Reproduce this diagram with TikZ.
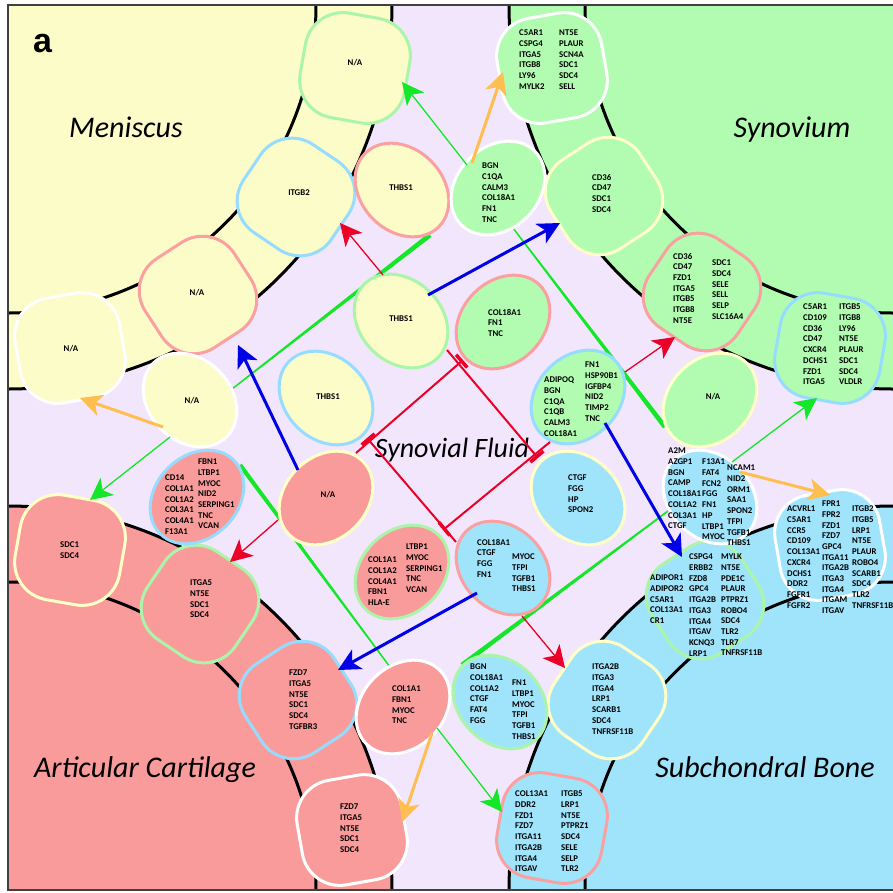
\documentclass[tikz,border=0pt]{standalone}
\usepackage{fontspec}
\setmainfont{Carlito}
\newfontfamily\labfont{Liberation Sans}
\usetikzlibrary{shapes.geometric,arrows.meta,calc}
\definecolor{lav}{RGB}{242,230,252}
\definecolor{fyel}{RGB}{252,252,200}
\definecolor{fgrn}{RGB}{178,252,178}
\definecolor{fpnk}{RGB}{250,155,155}
\definecolor{fblu}{RGB}{160,228,252}
\definecolor{kgrn}{RGB}{170,245,170}
\definecolor{kblu}{RGB}{150,220,255}
\definecolor{kpnk}{RGB}{250,160,160}
\definecolor{kyel}{RGB}{255,255,200}
\definecolor{agrn}{RGB}{20,230,40}
\definecolor{ablu}{RGB}{0,0,230}
\definecolor{ared}{RGB}{235,0,40}
\definecolor{aorg}{RGB}{255,190,80}
\pgfdeclarelayer{bg}
\pgfdeclarelayer{lines}
\pgfsetlayers{bg,lines,main}
\newcommand\mytaper[4]{%
  \fill[agrn] ($(#1)!#3!90:(#2)$) -- ($(#1)!#3!-90:(#2)$) -- ($(#2)!#4!90:(#1)$) -- ($(#2)!#4!-90:(#1)$) -- cycle;}
\tikzset{
 sq/.style={draw, line width=3pt, rectangle, rounded corners=38pt, minimum width=106pt, minimum height=106pt, inner sep=0pt},
 ell/.style={draw, line width=3pt, ellipse, minimum width=104pt, minimum height=82pt, inner sep=0pt},
 txt/.style={font=\fontsize{8.8}{10.67}\selectfont\bfseries, align=left, inner sep=0pt, anchor=north west},
 ctxt/.style={font=\fontsize{8.8}{10.67}\selectfont\bfseries, inner sep=0pt},
 region/.style={font=\fontsize{30}{36}\selectfont\itshape, inner sep=0pt, anchor=base},
 arcline/.style={line width=3pt, black},
 head/.style={-{Stealth[length=22pt,width=22pt,inset=6pt]}},
 garr/.style={head, draw=agrn, line width=1.3pt},
 barr/.style={head, draw=ablu, line width=3pt},
 rarr/.style={head, draw=ared, line width=1.3pt},
 oarr/.style={head, draw=aorg, line width=3pt},
 inh/.style={-{Bar[width=17pt,line width=3.5pt]}, draw=ared, line width=2pt},
}
\begin{document}
\begin{tikzpicture}[x=1pt,y=-1pt]
\useasboundingbox (0,0) rectangle (893,892);
\begin{pgfonlayer}{bg}
\fill[lav] (8,5) rectangle (893,890);
\fill[fyel] (8,5) -- ++(384pt,0pt) arc[start angle=0,end angle=-90,radius=384pt] -- cycle;
\fill[fgrn] (893,5) -- ++(-384pt,0pt) arc[start angle=180,end angle=270,radius=384pt] -- cycle;
\fill[fpnk] (8,890) -- ++(384pt,0pt) arc[start angle=0,end angle=90,radius=384pt] -- cycle;
\fill[fblu] (893,890) -- ++(-384pt,0pt) arc[start angle=180,end angle=90,radius=384pt] -- cycle;
\draw[arcline] (392,5) arc[start angle=0,end angle=-90,radius=384pt];
\draw[arcline] (316,5) arc[start angle=0,end angle=-90,radius=308pt];
\draw[arcline] (509,5) arc[start angle=180,end angle=270,radius=384pt];
\draw[arcline] (585,5) arc[start angle=180,end angle=270,radius=308pt];
\draw[arcline] (392,890) arc[start angle=0,end angle=90,radius=384pt];
\draw[arcline] (316,890) arc[start angle=0,end angle=90,radius=308pt];
\draw[arcline] (509,890) arc[start angle=180,end angle=90,radius=384pt];
\draw[arcline] (585,890) arc[start angle=180,end angle=90,radius=308pt];
\draw[line width=1.2pt, black!75] (893,5) -- (8,5) -- (8,890) -- (893,890);
\end{pgfonlayer}

% region labels
\node[font=\labfont\bfseries\fontsize{34}{40}\selectfont, anchor=base west, inner sep=0pt] (lbla) at (33,52) {a};
\node[region] (lmen) at (126,137) {Meniscus};
\node[region] (lsyn) at (792,137) {Synovium};
\node[region] (lart) at (145,777) {Articular Cartilage};
\node[region] (lsub) at (765,777) {Subchondral Bone};
\node[region, font=\fontsize{28}{34}\selectfont\itshape] (lflu) at (452,457) {Synovial Fluid};

% ---- Meniscus (top-left) shapes
\node[sq, fill=fyel, draw=kgrn, rotate=-10] (m1) at (355,68) {};
\node[sq, fill=fyel, draw=kblu, rotate=-34] (m2) at (296,197) {};
\node[sq, fill=fyel, draw=kpnk, rotate=-57] (m3) at (198,295) {};
\node[sq, fill=fyel, draw=white, rotate=-80] (m4) at (70,348) {};
\node[ell, fill=fyel, draw=kpnk, rotate=-45] (m5) at (402,190) {};
\node[ell, fill=fyel, draw=kgrn, rotate=-45] (m6) at (401,321) {};
\node[ell, fill=fyel, draw=kblu, rotate=-45] (m7) at (326,398) {};
\node[ell, fill=fyel, draw=white, rotate=-45] (m8) at (190,400) {};
% ---- Synovium (top-right) shapes
\node[sq, fill=fgrn, draw=white, rotate=10] (s1) at (552,68) {};
\node[sq, fill=fgrn, draw=kyel, rotate=33] (s2) at (604,196) {};
\node[sq, fill=fgrn, draw=kpnk, rotate=56] (s3) at (702,292) {};
\node[sq, fill=fgrn, draw=kblu, rotate=80] (s4) at (830,348) {};
\node[ell, fill=fgrn, draw=white, rotate=45] (s5) at (498,188) {};
\node[ell, fill=fgrn, draw=kpnk, rotate=45] (s6) at (503,322) {};
\node[ell, fill=fgrn, draw=kblu, rotate=45] (s7) at (578,397) {};
\node[ell, fill=fgrn, draw=kyel, rotate=45] (s8) at (710,400) {};
% ---- Cartilage (bottom-left) shapes
\node[sq, fill=fpnk, draw=kyel, rotate=80] (c1) at (70,550) {};
\node[sq, fill=fpnk, draw=kgrn, rotate=56] (c2) at (200,604) {};
\node[sq, fill=fpnk, draw=kblu, rotate=33] (c3) at (298,700) {};
\node[sq, fill=fpnk, draw=white, rotate=10] (c4) at (352,830) {};
\node[ell, fill=fpnk, draw=kblu, rotate=45] (c5) at (197,497) {};
\node[ell, fill=fpnk, draw=kyel, rotate=45] (c6) at (326,498) {};
\node[ell, fill=fpnk, draw=kgrn, rotate=45] (c7) at (402,572) {};
\node[ell, fill=fpnk, draw=white, rotate=45] (c8) at (403,707) {};
% ---- Bone (bottom-right) shapes
\node[sq, fill=fblu, draw=kpnk, rotate=-10] (b1) at (552,828) {};
\node[sq, fill=fblu, draw=kyel, rotate=-34] (b2) at (607,700) {};
\node[sq, fill=fblu, draw=kgrn, rotate=-57] (b3) at (705,600) {};
\node[sq, fill=fblu, draw=white, rotate=-80] (b4) at (830,545) {};
\node[ell, fill=fblu, draw=kyel, rotate=-45] (b5) at (578,498) {};
\node[ell, fill=fblu, draw=kpnk, rotate=-45] (b6) at (503,568) {};
\node[ell, fill=fblu, draw=kgrn, rotate=-45] (b7) at (500,702) {};
\node[ell, fill=fblu, draw=white, rotate=-45] (b8) at (710,497) {};

% ---- texts
\node[ctxt] (tm1) at (355,63) {N/A};
\node[ctxt] (tm2) at (299,193) {ITGB2};
\node[ctxt] (tm3) at (197,293) {N/A};
\node[ctxt] (tm4) at (71,349) {N/A};
\node[ctxt] (tm5) at (401,188) {THBS1};
\node[ctxt] (tm6) at (401,319) {THBS1};
\node[ctxt] (tm7) at (328,397) {THBS1};
\node[ctxt] (tm8) at (192,401) {N/A};

\node[txt] (ts1a) at (519,30) {C5AR1\\CSPG4\\ITGA5\\ITGB8\\LY96\\MYLK2};
\node[txt] (ts1b) at (559,30) {NT5E\\PLAUR\\SCN4A\\SDC1\\SDC4\\SELL};
\node[txt] (ts2) at (592,174) {CD36\\CD47\\SDC1\\SDC4};
\node[txt] (ts3a) at (673,253) {CD36\\CD47\\FZD1\\ITGA5\\ITGB5\\ITGB8\\NT5E};
\node[txt] (ts3b) at (712,260) {SDC1\\SDC4\\SELE\\SELL\\SELP\\SLC16A4};
\node[txt] (ts4a) at (803,304) {C5AR1\\CD109\\CD36\\CD47\\CXCR4\\DCHS1\\FZD1\\ITGA5};
\node[txt] (ts4b) at (839,304) {ITGB5\\ITGB8\\LY96\\NT5E\\PLAUR\\SDC1\\SDC4\\VLDLR};
\node[txt] (ts5) at (482,163) {BGN\\C1QA\\CALM3\\COL18A1\\FN1\\TNC};
\node[txt] (ts6) at (488,309) {COL18A1\\FN1\\TNC};
\node[txt] (ts7a) at (544,377) {ADIPOQ\\BGN\\C1QA\\C1QB\\CALM3\\COL18A1};
\node[txt] (ts7b) at (585,362) {FN1\\HSP90B1\\IGFBP4\\NID2\\TIMP2\\TNC};
\node[ctxt] (ts8) at (713,397) {N/A};

\node[txt] (tc1) at (60,542) {SDC1\\SDC4};
\node[txt] (tc2) at (190,580) {ITGA5\\NT5E\\SDC1\\SDC4};
\node[txt] (tc3) at (289,670) {FZD7\\ITGA5\\NT5E\\SDC1\\SDC4\\TGFBR3};
\node[txt] (tc4) at (340,804) {FZD7\\ITGA5\\NT5E\\SDC1\\SDC4};
\node[txt] (tc5a) at (165,475) {CD14\\COL1A1\\COL1A2\\COL3A1\\COL4A1\\F13A1};
\node[txt] (tc5b) at (198,459) {FBN1\\LTBP1\\MYOC\\NID2\\SERPING1\\TNC\\VCAN};
\node[ctxt] (tc6) at (328,495) {N/A};
\node[txt] (tc7a) at (368,557) {COL1A1\\COL1A2\\COL4A1\\FBN1\\HLA-E};
\node[txt] (tc7b) at (406,544) {LTBP1\\MYOC\\SERPING1\\TNC\\VCAN};
\node[txt] (tc8) at (392,686) {COL1A1\\FBN1\\MYOC\\TNC};

\node[txt] (tb1a) at (515,791) {COL13A1\\DDR2\\FZD1\\FZD7\\ITGA11\\ITGA2B\\ITGA4\\ITGAV};
\node[txt] (tb1b) at (561,791) {ITGB5\\LRP1\\NT5E\\PTPRZ1\\SDC4\\SELE\\SELP\\TLR2};
\node[txt] (tb2) at (592,664) {ITGA2B\\ITGA3\\ITGA4\\LRP1\\SCARB1\\SDC4\\TNFRSF11B};
\node[txt] (tb3a) at (650,575) {ADIPOR1\\ADIPOR2\\C5AR1\\COL13A1\\CR1};
\node[txt] (tb3b) at (689,554) {CSPG4\\ERBB2\\FZD8\\GPC4\\ITGA2B\\ITGA3\\ITGA4\\ITGAV\\KCNQ3\\LRP1};
\node[txt] (tb3c) at (721,554) {MYLK\\NT5E\\PDE1C\\PLAUR\\PTPRZ1\\ROBO4\\SDC4\\TLR2\\TLR7\\TNFRSF11B};
\node[txt] (tb4a) at (787,506) {ACVRL1\\C5AR1\\CCR5\\CD109\\COL13A1\\CXCR4\\DCHS1\\DDR2\\FGFR1\\FGFR2};
\node[txt] (tb4b) at (822,501) {FPR1\\FPR2\\FZD1\\FZD7\\GPC4\\ITGA11\\ITGA2B\\ITGA3\\ITGA4\\ITGAM\\ITGAV};
\node[txt] (tb4c) at (852,506) {ITGB2\\ITGB5\\LRP1\\NT5E\\PLAUR\\ROBO4\\SCARB1\\SDC4\\TLR2\\TNFRSF11B};
\node[txt] (tb5) at (568,475) {CTGF\\FGG\\HP\\SPON2};
\node[txt] (tb6a) at (477,539) {COL18A1\\CTGF\\FGG\\FN1};
\node[txt] (tb6b) at (512,554) {MYOC\\TFPI\\TGFB1\\THBS1};
\node[txt] (tb7a) at (470,664) {BGN\\COL18A1\\COL1A2\\CTGF\\FAT4\\FGG};
\node[txt] (tb7b) at (512,680) {FN1\\LTBP1\\MYOC\\TFPI\\TGFB1\\THBS1};
\node[txt] (tb8a) at (668,448) {A2M\\AZGP1\\BGN\\CAMP\\COL18A1\\COL1A2\\COL3A1\\CTGF};
\node[txt] (tb8b) at (702,459) {F13A1\\FAT4\\FCN2\\FGG\\FN1\\HP\\LTBP1\\MYOC};
\node[txt] (tb8c) at (727,465) {NCAM1\\NID2\\ORM1\\SAA1\\SPON2\\TFPI\\TGFB1\\THBS1};

% ---- tapered green links (behind nodes)
\coordinate (l1a) at ($(m8)+(42,-11)$);
\coordinate (l1b) at ($(m5)+(28,45)$);
\coordinate (l2a) at ($(s5)+(15,40)$);
\coordinate (l2b) at ($(s8)+(-45,27)$);
\coordinate (l3a) at ($(c5)+(43,-32)$);
\coordinate (l3b) at ($(c8)+(-13,-40)$);
\coordinate (l4a) at ($(b8)+(-38,11)$);
\coordinate (l4b) at ($(b7)+(-38,-37)$);
\begin{pgfonlayer}{lines}
\mytaper{l1a}{l1b}{0.7pt}{2.4pt}
\mytaper{l2a}{l2b}{0.7pt}{2.4pt}
\mytaper{l3a}{l3b}{2.2pt}{0.7pt}
\mytaper{l4a}{l4b}{0.8pt}{2.4pt}
\end{pgfonlayer}

% ---- arrows
\draw[garr] ($(s5)+(-31,-23)$) -- ($(m1)+(47,14)$);
\draw[garr] ($(m8)+(-20,37)$) -- ($(c1)+(20,-50)$);
\draw[garr] ($(c8)+(34,21)$) -- ($(b1)+(-50,-16)$);
\draw[garr] ($(b8)+(22,-35)$) -- ($(s4)+(-13,50)$);
\draw[barr] ($(c6)+(-28,-28)$) -- ($(m3)+(40,50)$);
\draw[barr] ($(m6)+(27,-26)$) -- ($(s2)+(-44,27)$);
\draw[barr] ($(s7)+(27,26)$) -- ($(b3)+(-23,-43)$);
\draw[barr] ($(b6)+(-26,25)$) -- ($(c3)+(40,-30)$);
\draw[rarr] ($(m6)+(-18,-46)$) -- ($(m2)+(44,26)$);
\draw[rarr] ($(s7)+(47,-25)$) -- ($(s3)+(-27,45)$);
\draw[rarr] ($(c6)+(-48,22)$) -- ($(c2)+(30,-42)$);
\draw[rarr] ($(b6)+(19,48)$) -- ($(b2)+(-42,-32)$);
\draw[oarr] ($(s5)+(-26,-25)$) -- ($(s1)+(-49,4)$);
\draw[oarr] ($(m8)+(-27,27)$) -- ($(m4)+(10,50)$);
\draw[oarr] ($(c8)+(29,26)$) -- ($(c4)+(50,-8)$);
\draw[oarr] ($(b8)+(30,-25)$) -- ($(b4)+(0,-50)$);
% ---- inhibition diamond
\draw[inh] ($(c6)+(30,-45)$) -- ($(s6)+(-40,38)$);
\draw[inh] ($(m6)+(46,29)$) -- ($(b5)+(-40,-40)$);
\draw[inh] ($(s7)+(-28,45)$) -- ($(c7)+(41,-42)$);
\draw[inh] ($(b6)+(-47,-26)$) -- ($(m7)+(41,40)$);
\end{tikzpicture}
\end{document}
